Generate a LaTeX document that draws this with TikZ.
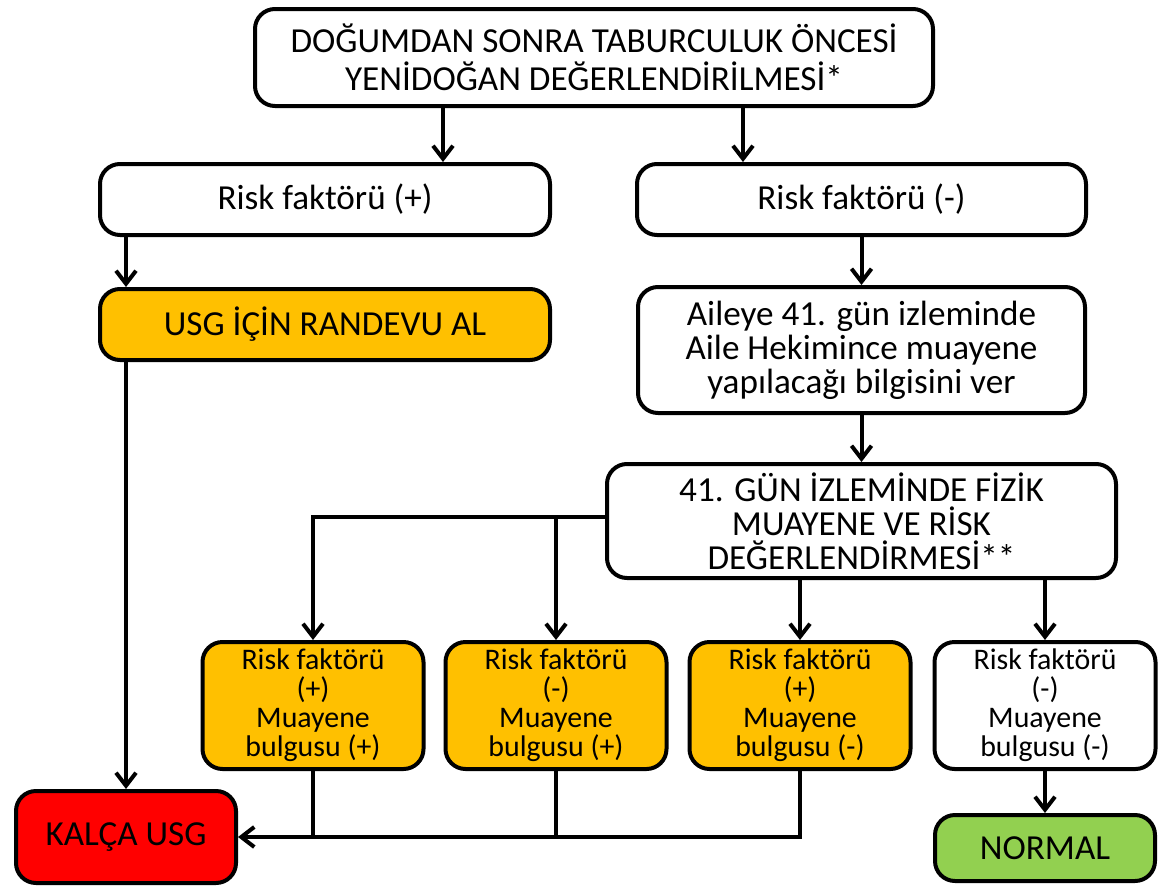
\documentclass[tikz,border=0pt]{standalone}
\usepackage{fontspec}
\setmainfont{Carlito}
\usetikzlibrary{positioning,arrows.meta}
\definecolor{usgorange}{HTML}{FFC000}
\definecolor{usgred}{HTML}{FF0000}
\definecolor{usggreen}{HTML}{92D050}
\begin{document}
\begin{tikzpicture}[
  box/.style={draw, line width=0.08cm, rounded corners=0.4cm, align=center, inner sep=0pt, font=\fontsize{20}{19.3}\selectfont},
  small/.style={box, minimum width=4.42cm, minimum height=2.54cm, font=\fontsize{17}{16.5}\selectfont},
  arr/.style={line width=0.08cm, -{Straight Barb[length=0.26cm,width=0.4cm]}},
  link/.style={line width=0.08cm}]
  \useasboundingbox (0,0) rectangle (23.26,-17.72);
  % Define nodes
  \node[box, minimum width=13.56cm, minimum height=1.94cm, font=\fontsize{20}{21.6}\selectfont] (top) at (11.88,-1.15)
    {DOĞUMDAN SONRA TABURCULUK ÖNCESİ\\YENİDOĞAN DEĞERLENDİRİLMESİ*};
  \node[box, minimum width=9cm, minimum height=1.42cm, below=1.08cm of top, xshift=-5.38cm] (rplus)  {Risk faktörü (+)};
  \node[box, minimum width=8.98cm, minimum height=1.42cm, right=1.66cm of rplus]             (rminus) {Risk faktörü (-)};
  \node[box, minimum width=9cm, minimum height=1.42cm, fill=usgorange, below=1cm of rplus]   (randevu) {USG İÇİN RANDEVU AL};
  \node[box, minimum width=8.94cm, minimum height=2.52cm, below=0.96cm of rminus] (aile)
    {Aileye 41. gün izleminde\\Aile Hekimince muayene\\yapılacağı bilgisini ver};
  \node[box, minimum width=10.18cm, minimum height=2.28cm, below=0.94cm of aile] (gun)
    {41. GÜN İZLEMİNDE FİZİK\\MUAYENE VE RİSK\\DEĞERLENDİRMESİ**};
  \node[small, fill=usgorange, below=1.2cm of gun, xshift=-1.23cm] (b3) {Risk faktörü\\(+)\\Muayene\\bulgusu (-)};
  \node[small, fill=usgorange, left=0.38cm of b3]  (b2) {Risk faktörü\\(-)\\Muayene\\bulgusu (+)};
  \node[small, fill=usgorange, left=0.36cm of b2]  (b1) {Risk faktörü\\(+)\\Muayene\\bulgusu (+)};
  \node[small, right=0.4cm of b3]                  (b4) {Risk faktörü\\(-)\\Muayene\\bulgusu (-)};
  \node[box, minimum width=4.4cm, minimum height=1.84cm, fill=usgred, below=8.54cm of randevu, xshift=-3.98cm] (kalca) {KALÇA USG};
  \node[box, minimum width=4.4cm, minimum height=1.32cm, fill=usggreen, below=0.84cm of b4] (normal) {NORMAL};
  \coordinate (split) at ([yshift=0.08cm]gun.west);

  % Connect the nodes
  \draw[arr] ([xshift=-3.02cm]top.south) -- ([xshift=-3.02cm]top.south |- rplus.north);
  \draw[arr] ([xshift=2.98cm]top.south)  -- ([xshift=2.98cm]top.south |- rminus.north);
  \draw[arr] (kalca.north |- rplus.south) -- (kalca.north |- randevu.north);
  \draw[arr] (kalca.north |- randevu.south) -- (kalca.north);
  \draw[arr] (rminus.south) -- (rminus.south |- aile.north);
  \draw[arr] (aile.south) -- (aile.south |- gun.north);
  \draw[arr] (split) -| (b1.north);
  \draw[arr] (b2.north |- split) -- (b2.north);
  \draw[arr] (b3.north |- gun.south) -- (b3.north);
  \draw[arr] (b4.north |- gun.south) -- (b4.north);
  \draw[link] (b1.south) -- (b1.south |- kalca.east);
  \draw[link] (b2.south) -- (b2.south |- kalca.east);
  \draw[arr] (b3.south) |- (kalca.east);
  \draw[arr] (b4.south) -- (normal.north);
\end{tikzpicture}
\end{document}
